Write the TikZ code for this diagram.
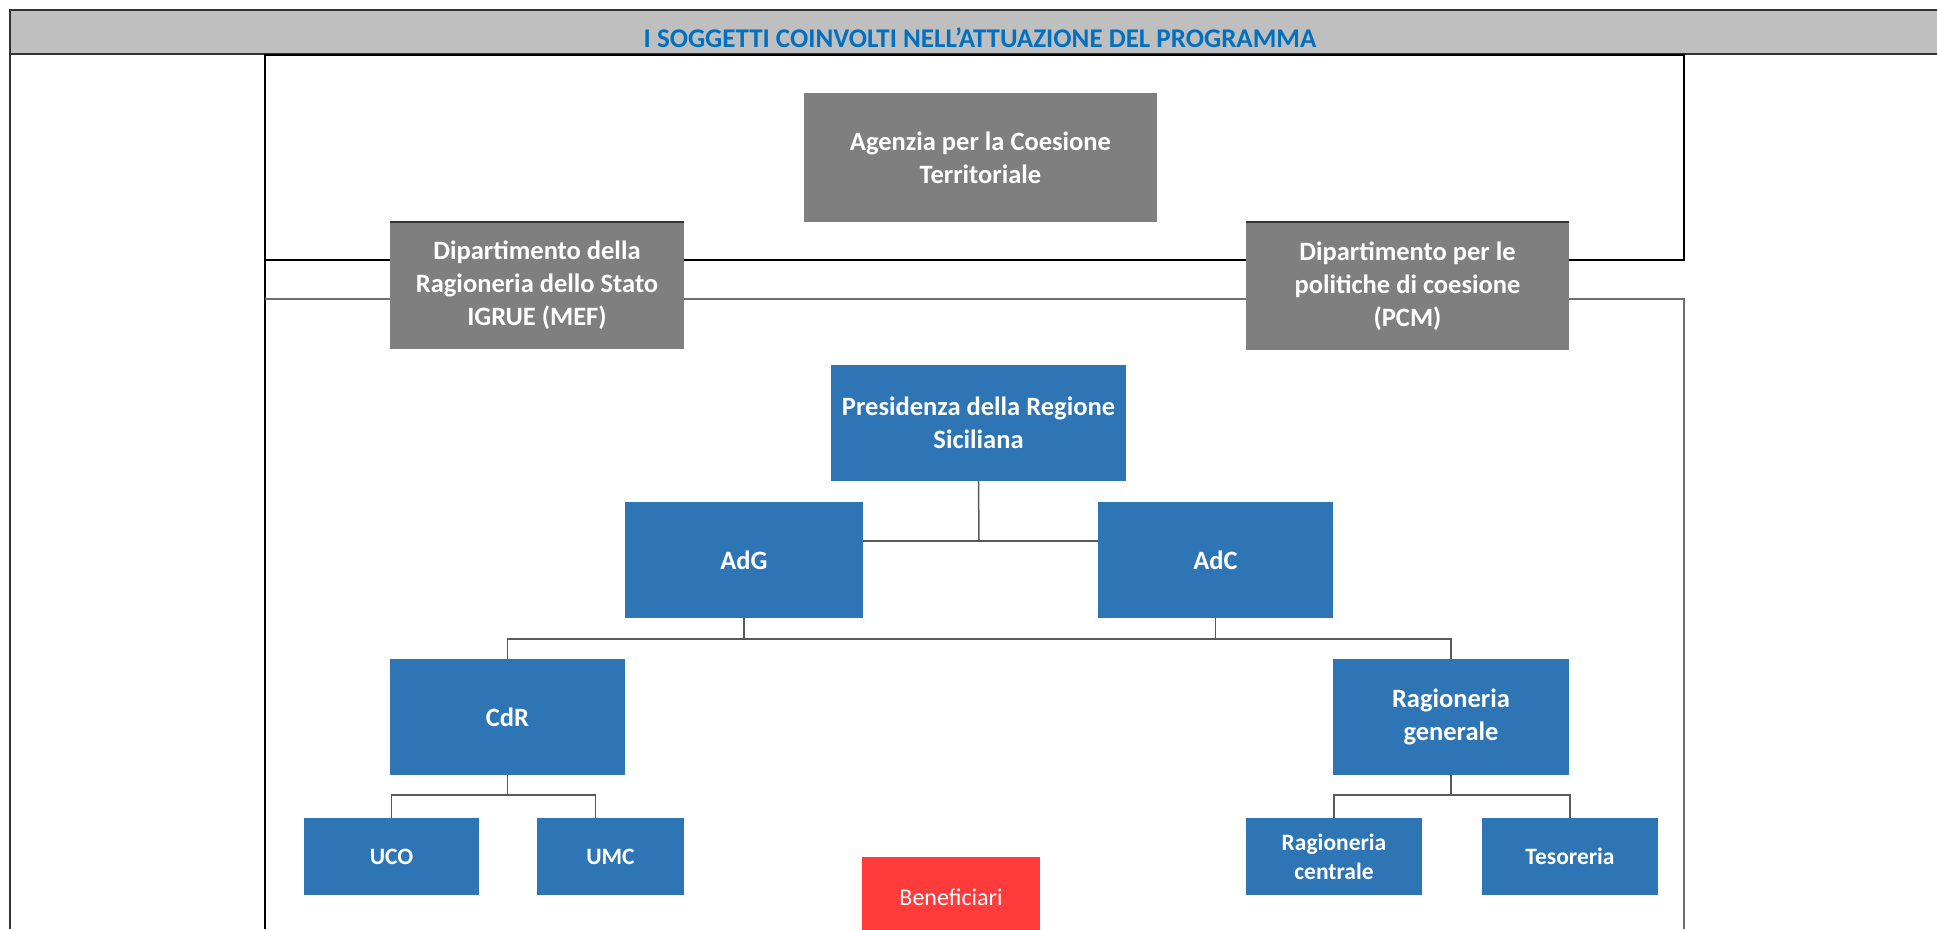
\documentclass[tikz,border=0pt]{standalone}
\usepackage{fontspec}
\setmainfont{Carlito}
\definecolor{headgray}{HTML}{BFBFBF}
\definecolor{titleblue}{HTML}{0070C0}
\definecolor{boxgray}{HTML}{7F7F7F}
\definecolor{boxblue}{HTML}{2E75B6}
\definecolor{boxred}{HTML}{FF3B3B}
\definecolor{linkgray}{HTML}{595959}
\definecolor{framegray}{HTML}{333333}
\definecolor{lowgray}{HTML}{6E6E6E}
\begin{document}
\begin{tikzpicture}[
        x = 1pt, y = -1pt,
        box/.style = {inner sep=0pt, align=center, text=white,
          font=\bfseries\fontsize{26.5}{33}\selectfont},
        greybox/.style = {box, fill=boxgray},
        bluebox/.style = {box, fill=boxblue},
        smallbox/.style = {bluebox, minimum width=176pt, minimum height=77pt,
          font=\bfseries\fontsize{23.5}{29}\selectfont},
        link/.style = {draw=linkgray, line width=1.5pt}]
      \useasboundingbox (0,0) rectangle (1937,929);
      % header band
      \fill[headgray] (10,10) rectangle (1937,54);
      \draw[framegray, line width=2pt] (1937,10) -- (10,10) -- (10,929);
      \draw[framegray, line width=2pt] (10,54) -- (1937,54);
      \node[text=titleblue, font=\bfseries\fontsize{27}{32}\selectfont] (title) at (980,38)
        {I SOGGETTI COINVOLTI NELL’ATTUAZIONE DEL PROGRAMMA};
      % frames behind the boxes
      \draw[black, line width=1.5pt] (265,929) -- (265,55) -- (1684,55) -- (1684,260) -- (265,260);
      \draw[lowgray, line width=1.5pt] (265,299) -- (1684,299) -- (1684,929);
      % national level
      \node[greybox, minimum width=353pt, minimum height=129pt] (agenzia) at (980.5,157.5)
        {Agenzia per la Coesione\\Territoriale};
      \node[greybox, minimum width=294pt, minimum height=127pt] (igrue) at (537,285.5)
        {Dipartimento della\\Ragioneria dello Stato\\IGRUE (MEF)};
      \node[greybox, minimum width=323pt, minimum height=128pt] (pcm) at (1407.5,286)
        {Dipartimento per le\\politiche di coesione\\(PCM)};
      \draw[framegray, line width=2pt] (igrue.north west) -- (igrue.north east);
      \draw[framegray, line width=2pt] (pcm.north west) -- (pcm.north east);
      % regional level
      \node[bluebox, minimum width=295pt, minimum height=116pt] (presidenza) at (978.5,423)
        {Presidenza della Regione\\Siciliana};
      \node[bluebox, minimum width=238pt, minimum height=116pt] (adg) at (744,560) {AdG};
      \node[bluebox, minimum width=235pt, minimum height=116pt] (adc) at (1215.5,560) {AdC};
      \node[bluebox, minimum width=235pt, minimum height=116pt] (cdr) at (507.5,717) {CdR};
      \node[bluebox, minimum width=236pt, minimum height=116pt] (raggen) at (1451,717)
        {Ragioneria\\generale};
      \node[smallbox, minimum width=175pt] (uco) at (391.5,856.5) {UCO};
      \node[smallbox, minimum width=147pt] (umc) at (610.5,856.5) {UMC};
      \node[smallbox] (ragcen) at (1334,856.5) {Ragioneria\\centrale};
      \node[smallbox] (tesoreria) at (1570,856.5) {Tesoreria};
      \node[box, fill=boxred, minimum width=178pt, minimum height=80pt,
        font=\fontsize{24}{30}\selectfont] (benef) at (951,897) {Beneficiari};
      % connectors
      \coordinate (pj) at (979,541);
      \coordinate (aj) at (0,639);
      \coordinate (cj) at (0,795);
      \coordinate (umctop) at ([xshift=-15pt]umc.north);
      \draw[link] (presidenza.south) -- (pj);
      \draw[link] (adg.east |- pj) -- (adc.west |- pj);
      \draw[link] (adg.south) -- (adg.south |- aj);
      \draw[link] (adc.south) -- (adc.south |- aj);
      \draw[link] (cdr.north) -- (cdr.north |- aj) -- (raggen.north |- aj) -- (raggen.north);
      \draw[link] (cdr.south) -- (cdr.south |- cj);
      \draw[link] (uco.north) -- (uco.north |- cj) -- (umctop |- cj) -- (umctop);
      \draw[link] (raggen.south) -- (raggen.south |- cj);
      \draw[link] (ragcen.north) -- (ragcen.north |- cj) -- (tesoreria.north |- cj) -- (tesoreria.north);
    \end{tikzpicture}
\end{document}
